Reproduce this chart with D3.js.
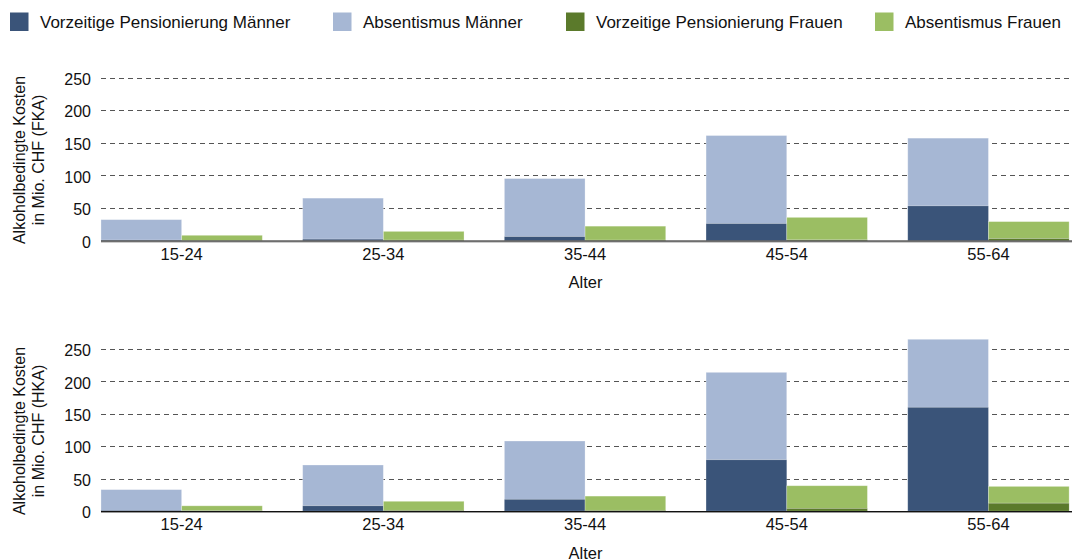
<!DOCTYPE html>
<html>
<head>
<meta charset="utf-8">
<script src="https://cdn.jsdelivr.net/npm/d3@7"></script>
<style>
  body { margin: 0; background: #fff; }
  svg { display: block; font-family: "Liberation Sans", Arial, Helvetica, sans-serif; }
</style>
</head>
<body>
<svg id="chart" width="1072" height="560"></svg>
<script>
// ---- data ----
const categories = ["15-24", "25-34", "35-44", "45-54", "55-64"];
const seriesNames = ["Vorzeitige Pensionierung Männer", "Absentismus Männer", "Vorzeitige Pensionierung Frauen", "Absentismus Frauen"];
const yTicks = [0, 50, 100, 150, 200, 250];

// FKA (top panel)
const fkaPensionMen   = [0.5, 2, 6, 26, 53];
const fkaAbsentMen    = [31.5, 63, 89, 135, 104];
const fkaPensionWomen = [0, 0.5, 0.5, 1, 3];
const fkaAbsentWomen  = [8, 13.5, 21.5, 34.5, 26];

// HKA (bottom panel)
const hkaPensionMen   = [1, 8, 18, 79, 160];
const hkaAbsentMen    = [32, 63, 90, 135, 105];
const hkaPensionWomen = [0.5, 1, 1, 4, 12];
const hkaAbsentWomen  = [7.5, 14, 22, 35, 26];

const colors = ["#3a5479", "#a6b7d4", "#5b7a2b", "#9bbe63"];

// ---- layout ----
const svg = d3.select("#chart");
const plotLeft = 101, plotRight = 1072;

const x = d3.scaleBand().domain(categories)
  .range([80.8, 1089.3]).paddingInner(0.2).paddingOuter(0.1);
const xSub = d3.scaleBand().domain(["M", "F"]).range([0, x.bandwidth()]).padding(0);

// legend
const legendX = [10, 333, 566, 875];
const legend = svg.append("g");
seriesNames.forEach((name, i) => {
  const g = legend.append("g").attr("transform", `translate(${legendX[i]},12.5)`);
  g.append("rect").attr("width", 18.5).attr("height", 18.5).attr("fill", colors[i]);
  g.append("text").attr("x", 30).attr("y", 15)
    .attr("font-size", "17px").attr("fill", "#111").text(name);
});

function panel(y0, y250, label, pm, am, pw, aw) {
  const y = d3.scaleLinear().domain([0, 250]).range([y0, y250]);
  const g = svg.append("g");

  // dashed gridlines
  g.append("g").selectAll("line").data(yTicks.filter(d => d > 0)).join("line")
    .attr("x1", plotLeft).attr("x2", plotRight)
    .attr("y1", d => Math.round(y(d)) + 0.5).attr("y2", d => Math.round(y(d)) + 0.5)
    .attr("stroke", "#555").attr("stroke-width", 1).attr("stroke-dasharray", "5,4");

  // y axis labels
  const ya = g.append("g").attr("transform", `translate(${plotLeft},0)`)
    .call(d3.axisLeft(y).tickValues(yTicks).tickSize(0).tickPadding(10));
  ya.select(".domain").remove();
  ya.selectAll("text").attr("font-size", "16px").attr("fill", "#111")
    .attr("font-family", "Liberation Sans, Arial, sans-serif").attr("dy", "0.42em");

  // stacked bars
  const stacks = [
    { sub: "M", base: pm, top: am, c0: colors[0], c1: colors[1] },
    { sub: "F", base: pw, top: aw, c0: colors[2], c1: colors[3] }
  ];
  stacks.forEach(s => {
    const bars = g.append("g");
    categories.forEach((cat, i) => {
      const bx = x(cat) + xSub(s.sub);
      const w = xSub.bandwidth();
      // absentismus on top
      bars.append("rect").attr("x", bx).attr("width", w)
        .attr("y", y(s.base[i] + s.top[i]))
        .attr("height", y(s.base[i]) - y(s.base[i] + s.top[i]))
        .attr("fill", s.c1).attr("stroke", "#fff").attr("stroke-opacity", 0.35).attr("stroke-width", 0.8);
      // pension at bottom
      bars.append("rect").attr("x", bx).attr("width", w)
        .attr("y", y(s.base[i]))
        .attr("height", y(0) - y(s.base[i]))
        .attr("fill", s.c0).attr("stroke", "#fff").attr("stroke-opacity", 0.2).attr("stroke-width", 0.8);
    });
  });

  // baseline
  g.append("line").attr("x1", plotLeft).attr("x2", plotRight)
    .attr("y1", y(0) + 1.5).attr("y2", y(0) + 1.5).attr("stroke", "#999").attr("stroke-width", 1);
  g.append("line").attr("x1", plotLeft).attr("x2", plotRight)
    .attr("y1", y(0) + 0.5).attr("y2", y(0) + 0.5).attr("stroke", "#111").attr("stroke-width", 1.2);

  // x axis labels
  const xa = g.append("g").attr("transform", `translate(0,${y(0)})`)
    .call(d3.axisBottom(x).tickSize(0).tickPadding(7.5));
  xa.select(".domain").remove();
  xa.selectAll("text").attr("font-size", "16.5px").attr("fill", "#111")
    .attr("font-family", "Liberation Sans, Arial, sans-serif");

  // x title
  g.append("text").attr("x", (plotLeft + 1070) / 2).attr("y", y(0) + 47.5)
    .attr("text-anchor", "middle").attr("font-size", "16.5px").attr("fill", "#111").text("Alter");

  // y title
  const cy = (y0 + y250) / 2 + 1;
  const t = g.append("text").attr("transform", `translate(0,${cy}) rotate(-90)`)
    .attr("text-anchor", "middle").attr("font-size", "16px").attr("fill", "#111");
  t.append("tspan").attr("x", 0).attr("y", 25).text("Alkoholbedingte Kosten");
  t.append("tspan").attr("x", 0).attr("y", 43.5).text(label);
}

panel(240.5, 77.5, "in Mio. CHF (FKA)", fkaPensionMen, fkaAbsentMen, fkaPensionWomen, fkaAbsentWomen);
panel(511, 349, "in Mio. CHF (HKA)", hkaPensionMen, hkaAbsentMen, hkaPensionWomen, hkaAbsentWomen);
</script>
</body>
</html>
